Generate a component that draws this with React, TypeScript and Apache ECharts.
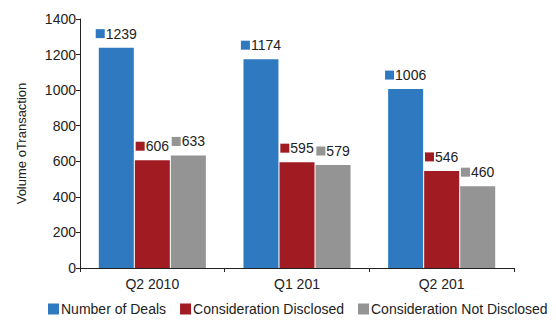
import React, { useEffect, useRef } from "react";
import * as echarts from "echarts";

const categories = ["Q2 2010", "Q1 201", "Q2 201"];
const seriesNames = ["Number of Deals", "Consideration Disclosed", "Consideration Not Disclosed"];
const numberOfDeals = [1239, 1174, 1006];
const considerationDisclosed = [606, 595, 546];
const considerationNotDisclosed = [633, 579, 460];
const colors = ["#2E79C0", "#A01C22", "#949494"];
const yTicks = { min: 0, max: 1400, interval: 200 };

export default function App() {
  const ref = useRef<HTMLDivElement>(null);
  useEffect(() => {
    const chart = echarts.init(ref.current!, null, { renderer: "svg" });
    const font = "Liberation Sans, Arial, sans-serif";
    const dataSets = [numberOfDeals, considerationDisclosed, considerationNotDisclosed];
    chart.setOption({
      animation: false,
      textStyle: { fontFamily: font },
      grid: { left: 80, right: 42, top: 19, bottom: 52 },
      legend: {
        top: 302,
        left: 48,
        itemWidth: 11,
        itemHeight: 11,
        itemGap: 14,
        padding: 0,
        icon: "rect",
        textStyle: { fontSize: 14, color: "#222", fontFamily: font, padding: [0, 0, 0, -3] },
        data: seriesNames,
      },
      xAxis: {
        type: "category",
        data: categories,
        axisLine: { lineStyle: { color: "#222" } },
        axisTick: { show: true, alignWithLabel: false, length: 4, lineStyle: { color: "#222" } },
        axisLabel: { fontSize: 14, color: "#222", margin: 9 },
      },
      yAxis: {
        type: "value",
        min: yTicks.min,
        max: yTicks.max,
        interval: yTicks.interval,
        name: "Volume oTransaction",
        nameLocation: "middle",
        nameGap: 52,
        nameTextStyle: { fontSize: 13, color: "#222" },
        axisLine: { show: true, lineStyle: { color: "#222" } },
        axisTick: { show: true, length: 4, lineStyle: { color: "#222" } },
        axisLabel: { fontSize: 14, color: "#222", margin: 4, formatter: (v: number) => String(v) },
        splitLine: { show: false },
      },
      series: seriesNames.map((name, i) => ({
        name,
        type: "bar",
        data: dataSets[i],
        barCategoryGap: "26%",
        barGap: "3%",
        itemStyle: { color: colors[i] },
        label: {
          show: true,
          position: "top",
          distance: 7,
          formatter: "{s|}{v|{c}}",
          rich: {
            s: { backgroundColor: colors[i], width: 9, height: 9 },
            v: { fontSize: 14, color: "#222", padding: [0, 0, 0, 1] },
          },
        },
      })),
    });
    return () => chart.dispose();
  }, []);
  return (
    <div
      ref={ref}
      style={{ position: "fixed", left: 0, top: 0, width: 556, height: 320, background: "#fff" }}
    />
  );
}
